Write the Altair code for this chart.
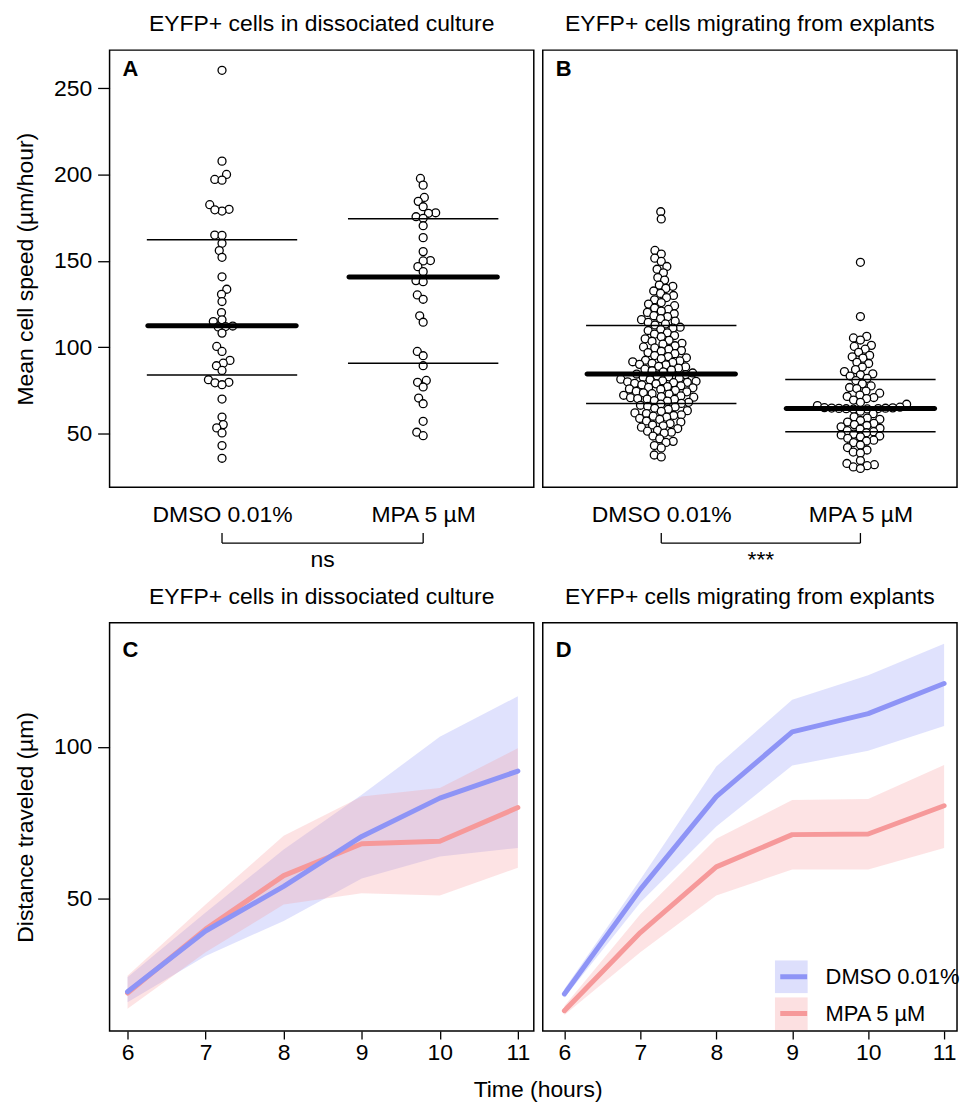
import math
import altair as alt
import pandas as pd

FONT = "Liberation Sans"
BLUE = "#8e94f6"
PINK = "#f6999a"

groups = ["DMSO 0.01%", "MPA 5 µM"]
titles = ["EYFP+ cells in dissociated culture", "EYFP+ cells migrating from explants"]
letters = ["A", "B", "C", "D"]
sig_labels = ["ns", "***"]

# ---- Panel A: mean cell speed, dissociated culture ----
speed_a_dmso = [260.4, 207.8, 200.1, 197.2, 196.8, 182.6, 179.9, 178.9, 179.6, 165.0,
                164.8, 160.2, 156.0, 152.1, 140.8, 133.6, 130.7, 126.5, 120.1, 115.9,
                114.9, 112.3, 112.0, 111.8, 108.2, 100.5, 97.6, 92.4, 90.8, 89.3,
                86.6, 81.2, 79.7, 79.4, 78.3, 70.0, 59.6, 55.2, 53.3, 50.4, 43.1, 35.7]
speed_a_mpa = [197.8, 193.9, 186.8, 184.5, 181.4, 177.9, 177.6, 175.6, 174.7, 170.4,
               163.5, 155.4, 150.2, 150.0, 146.7, 143.8, 138.6, 138.0, 130.3, 127.8,
               118.2, 114.5, 97.6, 95.1, 89.3, 80.8, 79.7, 77.0, 70.6, 67.3,
               57.1, 50.8, 48.8]
mid_a = [112.5, 140.7]
low_a = [84.0, 90.8]
high_a = [162.3, 174.4]

# ---- Panel B: mean cell speed, explants ----
speed_b_dmso = [178.5, 174.3,
                156.1, 154.0, 151.6, 149.7,
                146.8, 145.2, 143.1, 140.4,
                138.9, 136.0, 135.3, 134.1, 132.6, 131.2, 130.0,
                128.8, 127.5, 125.9, 125.0, 124.1, 122.7, 121.9, 121.0, 120.2,
                119.4, 118.3, 117.7, 116.6, 116.0, 115.1, 114.4, 113.5, 112.9, 111.6, 111.1, 110.3,
                109.7, 108.4, 107.6, 106.8, 106.1, 104.9, 104.0, 103.5, 102.3, 101.8, 100.9, 100.2,
                99.6, 98.8, 98.1, 97.7, 96.9, 96.3, 95.2, 94.6, 93.9, 93.4, 92.5, 92.1, 91.6, 91.2, 90.7, 90.1,
                89.8, 89.0, 88.6, 87.9, 87.3, 86.8, 86.4, 85.7, 85.1, 84.5, 84.2, 83.4, 82.9, 82.6, 82.1,
                81.5, 81.2, 80.6, 80.3, 80.0,
                79.7, 79.5, 79.1, 78.8, 78.3, 77.7, 77.2, 76.8, 76.5, 75.9, 75.6, 75.0, 74.5, 74.2, 73.6,
                73.1, 72.9, 72.2, 71.8, 71.4, 71.1, 70.8, 70.3, 70.0,
                69.8, 69.1, 68.8, 68.1, 67.5, 67.1, 66.4, 65.8, 65.4, 64.7, 64.1, 63.3, 62.9, 62.0, 61.6,
                60.9, 60.5, 60.1,
                59.5, 58.8, 58.2, 57.3, 56.7, 55.8, 55.0, 54.5, 53.7, 52.9, 51.9, 51.4, 50.8, 50.3,
                48.6, 47.0, 45.5, 44.9, 43.1, 41.7,
                37.6, 36.5]
speed_b_mpa = [149.2,
               117.8,
               106.3, 105.4, 104.2, 101.1, 100.5,
               98.9, 97.1, 95.3, 94.5, 93.7, 91.3, 90.6,
               88.5, 87.1, 85.9, 84.6, 84.0, 83.3, 82.0, 80.7,
               78.8, 77.6, 76.7, 76.1, 74.6, 73.4, 72.3, 71.5, 70.9, 70.3,
               69.4, 68.1, 67.0, 66.2, 65.3, 65.0, 64.9, 64.8, 64.7, 64.6, 64.5, 64.4, 64.3, 64.2,
               63.0, 61.5,
               59.7, 59.0, 58.3, 57.6, 56.7, 55.9, 55.2, 54.7, 53.9, 53.1, 52.6, 51.7, 51.1, 50.5,
               49.7, 49.2, 48.6, 48.1, 47.3, 46.2, 45.7, 44.8, 43.4, 41.9, 40.5,
               39.3, 38.7, 34.4, 32.7, 32.0, 31.4, 30.7, 29.8]
mid_b = [84.5, 64.5]
low_b = [67.5, 51.0]
high_b = [112.6, 81.4]

# ---- Panels C/D: distance traveled over time ----
hours = [6, 7, 8, 9, 10, 11]
c_dmso_mean = [19.4, 39.4, 54.1, 70.5, 83.1, 92.0]
c_dmso_lo = [16.0, 31.2, 42.7, 56.7, 63.9, 66.7]
c_dmso_hi = [24.2, 45.5, 66.2, 84.2, 103.3, 116.6]
c_mpa_mean = [19.0, 40.0, 57.6, 68.1, 68.9, 80.0]
c_mpa_lo = [13.8, 32.4, 48.1, 51.8, 51.1, 60.2]
c_mpa_hi = [24.7, 48.1, 70.7, 83.6, 86.4, 99.5]

d_dmso_mean = [18.7, 53.1, 83.6, 104.9, 110.9, 120.8]
d_dmso_lo = [17.4, 48.8, 73.8, 93.8, 98.7, 106.8]
d_dmso_hi = [20.3, 56.3, 93.5, 115.5, 123.5, 133.9]
d_mpa_mean = [13.2, 38.9, 60.5, 71.1, 71.3, 80.6]
d_mpa_lo = [11.8, 32.4, 51.1, 59.6, 59.6, 66.7]
d_mpa_hi = [14.7, 44.9, 69.7, 82.5, 82.8, 94.0]

# annotation levels (in speed units, below the panel)
bracket_y = [-13.4, -7.6]
sig_y = -23.0

Y_TOP = [18.9, 272.1]
TOP_H = 439
Y_BOT = [6.5, 140.8]
BOT_H = 410
DIAM = 7.3


def swarm_offsets(values, ypx, diam=DIAM):
    order = sorted(range(len(values)), key=lambda i: values[i])
    placed = []
    out = [0.0] * len(values)
    for i in order:
        y = values[i] * ypx
        near = [(py, px) for py, px in placed if abs(py - y) < diam]
        cands = [0.0]
        for py, px in near:
            dx = math.sqrt(diam * diam - (py - y) ** 2)
            cands += [px + dx, px - dx]
        cands.sort(key=lambda c: (abs(c), c))
        for c in cands:
            if all((c - px) ** 2 + (y - py) ** 2 >= diam * diam - 1e-6 for py, px in near):
                out[i] = c
                break
        placed.append((y, out[i]))
    return out


def title_params(text):
    return alt.TitleParams(text, fontSize=23, fontWeight="normal", font=FONT,
                           color="black", offset=14)


def letter_layer(letter, dy):
    return alt.Chart(pd.DataFrame({"t": [letter]})).mark_text(
        align="left", baseline="top", fontSize=22, fontWeight="bold", font=FONT, color="black"
    ).encode(x=alt.value(13), y=alt.value(dy), text="t:N")


def swarm_panel(dmso, mpa, mids, lows, highs, width, xdom, show_y, letter, title, sig):
    xpx = width / (xdom[1] - xdom[0])
    ypx = TOP_H / (Y_TOP[1] - Y_TOP[0])
    rows = []
    for gi, vals in enumerate([dmso, mpa]):
        offs = swarm_offsets(vals, ypx)
        for v, o in zip(vals, offs):
            rows.append({"pos": gi + o / xpx, "speed": v})
    pts = pd.DataFrame(rows)
    summ = pd.DataFrame({"pos": [0, 1], "mid": mids, "low": lows, "high": highs})
    xs = alt.Scale(domain=xdom, nice=False, zero=False)
    ys = alt.Scale(domain=Y_TOP, nice=False, zero=False)
    label_expr = "datum.value == 0 ? '%s' : '%s'" % (groups[0], groups[1])
    xaxis = alt.Axis(values=[0, 1], labelExpr=label_expr, ticks=False, tickSize=0,
                     domain=False, grid=False, labelPadding=16, title=None)
    if show_y:
        yaxis = alt.Axis(values=[50, 100, 150, 200, 250], tickSize=12, labelPadding=6,
                         title="Mean cell speed (µm/hour)", titlePadding=16, grid=False, domain=False)
    else:
        yaxis = None

    def X(f):
        return alt.X(f, scale=xs, axis=xaxis)

    def Y(f):
        return alt.Y(f, scale=ys, axis=yaxis)

    points = alt.Chart(pts).mark_point(
        shape="circle", filled=True, fill="white", stroke="black", strokeWidth=1.3,
        size=64, opacity=1
    ).encode(x=X("pos:Q"), y=Y("speed:Q"))

    med = alt.Chart(summ).mark_tick(orient="horizontal", size=154, thickness=5,
                                    color="black", cornerRadius=2.5, opacity=1).encode(
        x=X("pos:Q"), y=Y("mid:Q"))
    qlo = alt.Chart(summ).mark_tick(orient="horizontal", size=151, thickness=1.5,
                                    color="black", opacity=1).encode(
        x=X("pos:Q"), y=Y("low:Q"))
    qhi = alt.Chart(summ).mark_tick(orient="horizontal", size=151, thickness=1.5,
                                    color="black", opacity=1).encode(
        x=X("pos:Q"), y=Y("high:Q"))

    br = pd.DataFrame({"x": [0, 0, 1], "x2": [1, 0, 1],
                       "y": [bracket_y[0]] * 3,
                       "y2": [bracket_y[0], bracket_y[1], bracket_y[1]]})
    bracket = alt.Chart(br).mark_rule(color="black", strokeWidth=1.3).encode(
        x=X("x:Q"), x2="x2:Q", y=Y("y:Q"), y2="y2:Q")
    sig_text = alt.Chart(pd.DataFrame({"x": [0.5], "y": [sig_y], "t": [sig]})).mark_text(
        fontSize=23, font=FONT, color="black", baseline="middle").encode(
        x=X("x:Q"), y=Y("y:Q"), text="t:N")

    return alt.layer(points, qlo, qhi, med, bracket, sig_text, letter_layer(letter, 9)).properties(
        width=width, height=TOP_H, title=title_params(title))


def time_panel(dm, dlo, dhi, mm, mlo, mhi, width, xdom, show_y, letter, title, legend):
    rows = []
    for g, m, lo, hi in [(groups[0], dm, dlo, dhi), (groups[1], mm, mlo, mhi)]:
        for h, a, b, c in zip(hours, m, lo, hi):
            rows.append({"hour": h, "mean": a, "lo": b, "hi": c, "band": g, "trace": g})
    df = pd.DataFrame(rows)
    xs = alt.Scale(domain=xdom, nice=False, zero=False)
    ys = alt.Scale(domain=Y_BOT, nice=False, zero=False)
    xaxis = alt.Axis(values=hours, format="d", tickSize=8, labelPadding=3, title=None,
                     grid=False, domain=False)
    if show_y:
        yaxis = alt.Axis(values=[50, 100], tickSize=12, labelPadding=6,
                         title="Distance traveled (µm)", titlePadding=16, grid=False, domain=False)
    else:
        yaxis = None
    if legend:
        fill_leg = alt.Legend(orient="none", legendX=233, legendY=339, title=None,
                              symbolType="square", symbolSize=1089, symbolOpacity=0.3,
                              symbolStrokeWidth=0, labelExpr="''", clipHeight=33,
                              rowPadding=4, padding=0, labelFontSize=22, labelFont=FONT)
        stroke_leg = alt.Legend(orient="none", legendX=236, legendY=339, title=None,
                                symbolType="stroke", symbolSize=729, symbolStrokeWidth=5,
                                clipHeight=33, rowPadding=4, padding=0, labelFontSize=22,
                                labelFont=FONT, labelColor="black", labelOffset=16)
    else:
        fill_leg = None
        stroke_leg = None
    cscale_f = alt.Scale(range=[BLUE, PINK])
    cscale_s = alt.Scale(range=[BLUE, PINK])

    def X(f):
        return alt.X(f, scale=xs, axis=xaxis)

    def Y(f):
        return alt.Y(f, scale=ys, axis=yaxis)

    bands = alt.Chart(df).mark_area(opacity=0.27).encode(
        x=X("hour:Q"), y=Y("lo:Q"), y2="hi:Q",
        fill=alt.Fill("band:N", scale=cscale_f, legend=fill_leg))
    line_m = alt.Chart(df).transform_filter(alt.datum.trace == groups[1]).mark_line(
        strokeWidth=5, strokeCap="round", strokeJoin="round").encode(
        x=X("hour:Q"), y=Y("mean:Q"),
        stroke=alt.Stroke("trace:N", scale=cscale_s, legend=stroke_leg))
    line_d = alt.Chart(df).transform_filter(alt.datum.trace == groups[0]).mark_line(
        strokeWidth=5, strokeCap="round", strokeJoin="round").encode(
        x=X("hour:Q"), y=Y("mean:Q"),
        stroke=alt.Stroke("trace:N", scale=cscale_s, legend=stroke_leg))
    return alt.layer(bands, line_m, line_d, letter_layer(letter, 17)).properties(
        width=width, height=BOT_H, title=title_params(title))


panel_a = swarm_panel(speed_a_dmso, speed_a_mpa, mid_a, low_a, high_a, 426, [-0.559, 1.55],
                      True, letters[0], titles[0], sig_labels[0])
panel_b = swarm_panel(speed_b_dmso, speed_b_mpa, mid_b, low_b, high_b, 416, [-0.595, 1.485],
                      False, letters[1], titles[1], sig_labels[1])
panel_c = time_panel(c_dmso_mean, c_dmso_lo, c_dmso_hi, c_mpa_mean, c_mpa_lo, c_mpa_hi,
                     426, [5.77, 11.204], True, letters[2], titles[0], False)
panel_d = time_panel(d_dmso_mean, d_dmso_lo, d_dmso_hi, d_mpa_mean, d_mpa_lo, d_mpa_hi,
                     416, [5.715, 11.17], False, letters[3], titles[1], True)

top = alt.hconcat(panel_a, panel_b, spacing=7)
bottom = alt.hconcat(panel_c, panel_d, spacing=7).resolve_scale(fill="independent",
                                                                stroke="independent")

chart = alt.vconcat(top, bottom, spacing=12).properties(
    padding={"left": 5, "top": 2, "right": 0, "bottom": 0},
    title=alt.TitleParams("Time (hours)", orient="bottom", anchor="middle", dx=51, offset=14,
                          fontSize=23, fontWeight="normal", font=FONT, color="black")
).configure(font=FONT).configure_view(
    stroke="black", strokeWidth=1.5
).configure_axis(
    labelFont=FONT, labelFontSize=23, labelColor="black", tickColor="black", tickWidth=1.3,
    titleFont=FONT, titleFontSize=23, titleFontWeight="normal", titleColor="black"
).configure_legend(labelFont=FONT, labelColor="black")

chart.save("out.html", embed_options={"renderer": "svg", "actions": False})
